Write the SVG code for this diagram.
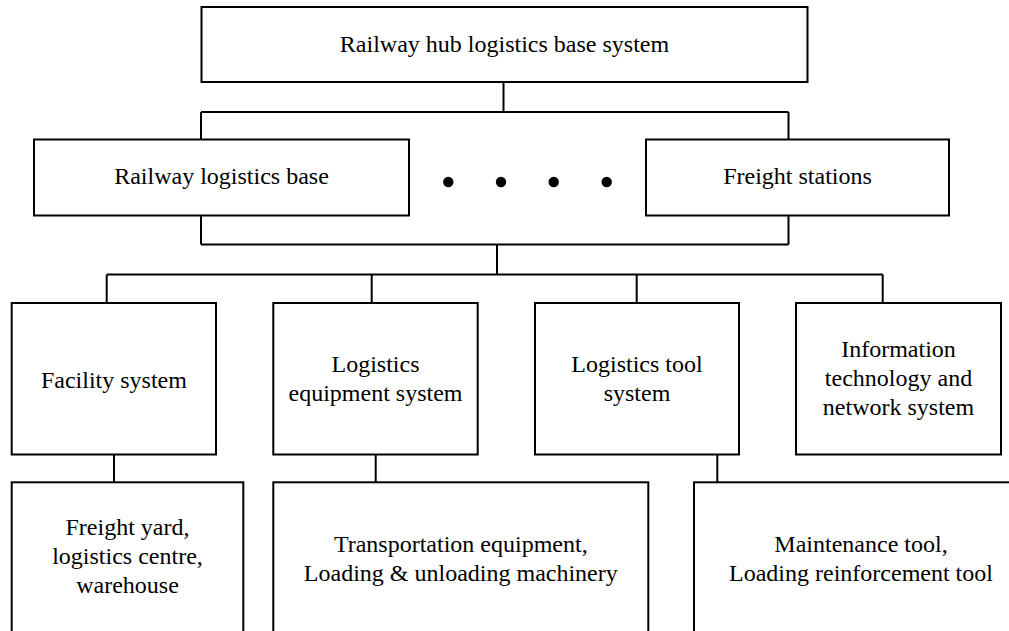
<svg xmlns="http://www.w3.org/2000/svg" width="1009" height="631" viewBox="0 0 1009 631" font-family="'Liberation Serif', 'Times New Roman', 'DejaVu Serif', serif">
<style>
.box{fill:#fff;stroke:#000;stroke-width:2}
.ln{stroke:#000;stroke-width:2;fill:none}
.t{font-family:'Liberation Serif','Times New Roman','DejaVu Serif',serif;font-size:24px;fill:#000;text-anchor:middle}
</style>
<rect width="1009" height="631" fill="#fff"/>
<g id="connectors" class="ln">
<path d="M503.5 82V112M201 112H788.5M201 112V139.5M788.5 112V139.5"/>
<path d="M201 215.5V244.5M788.5 215.5V244.5M201 244.5H788.5M497 244.5V274.5"/>
<path d="M106.7 274.5H882.7M106.7 274.5V303M371.7 274.5V303M636.7 274.5V303M882.7 274.5V303"/>
<path d="M114 454.5V482.3M375.7 454.5V482.3M717.3 454.5V482.3"/>
</g>
<g id="root"><rect class="box" x="201.5" y="7" width="606" height="75"/><text class="t" x="504.5" y="51.7">Railway hub logistics base system</text></g>
<g id="railway-logistics-base"><rect class="box" x="34" y="139.5" width="375" height="76"/><text class="t" x="221.5" y="184.3">Railway logistics base</text></g>
<g id="ellipsis"><circle cx="448.3" cy="182" r="5.2"/><circle cx="501" cy="182" r="5.2"/><circle cx="553.7" cy="182" r="5.2"/><circle cx="606.7" cy="182" r="5.2"/></g>
<g id="freight-stations"><rect class="box" x="646" y="139.5" width="303" height="76"/><text class="t" x="797.5" y="184.3">Freight stations</text></g>
<g id="facility-system"><rect class="box" x="11.7" y="303" width="204.3" height="151.5"/><text class="t" x="113.9" y="387.7">Facility system</text></g>
<g id="logistics-equipment-system"><rect class="box" x="273.3" y="303" width="204.4" height="151.5"/><text class="t" x="375.5" y="371.7">Logistics</text><text class="t" x="375.5" y="400.7">equipment system</text></g>
<g id="logistics-tool-system"><rect class="box" x="535" y="303" width="204" height="151.5"/><text class="t" x="637" y="371.7">Logistics tool</text><text class="t" x="637" y="400.7">system</text></g>
<g id="it-network-system"><rect class="box" x="796" y="303" width="205" height="151.5"/><text class="t" x="898.5" y="356.7">Information</text><text class="t" x="898.5" y="385.7">technology and</text><text class="t" x="898.5" y="415">network system</text></g>
<g id="freight-yard"><rect class="box" x="11.7" y="482.3" width="231.6" height="180"/><text class="t" x="127.5" y="535">Freight yard,</text><text class="t" x="127.5" y="564.3">logistics centre,</text><text class="t" x="127.5" y="593.3">warehouse</text></g>
<g id="transportation-equipment"><rect class="box" x="273.3" y="482.3" width="375" height="180"/><text class="t" x="460.8" y="551.7">Transportation equipment,</text><text class="t" x="460.8" y="580.7">Loading &amp; unloading machinery</text></g>
<g id="maintenance-tool"><rect class="box" x="694" y="482.3" width="334" height="180"/><text class="t" x="861" y="551.7">Maintenance tool,</text><text class="t" x="861" y="580.7">Loading reinforcement tool</text></g>
</svg>
